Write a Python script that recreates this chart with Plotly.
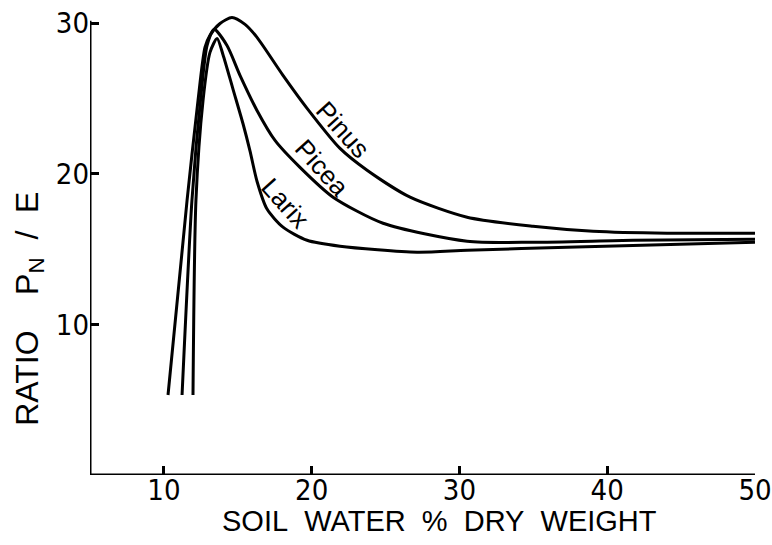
import plotly.graph_objects as go

TICKFONT = "DejaVu Sans Condensed, Liberation Sans Narrow, sans-serif"
TEXTFONT = "Liberation Sans, Arial, sans-serif"

# --- data ---
pinus_x = [10.28, 11.57, 12.31, 12.78, 13.12, 13.80, 14.61, 15.49, 16.30, 18.06, 19.69,
           21.92, 23.75, 26.66, 30.52, 34.98, 39.04, 44.05, 50.0]
pinus_y = [5.31, 18.24, 24.87, 28.38, 29.18, 29.97, 30.37, 29.91, 29.05, 26.53, 24.34,
           21.68, 20.23, 18.44, 17.11, 16.51, 16.18, 16.05, 16.05]

picea_x = [11.23, 11.90, 12.51, 12.92, 13.39, 14.27, 15.15, 16.30, 17.52, 19.21, 21.45,
           24.83, 30.52, 34.98, 41.75, 50.0]
picea_y = [5.31, 18.24, 25.20, 28.51, 29.58, 28.51, 26.53, 24.20, 22.21, 20.42, 18.44,
           16.71, 15.52, 15.45, 15.58, 15.65]

larix_x = [11.97, 12.17, 12.65, 13.12, 13.60, 14.00, 14.68, 15.36, 15.83, 16.30, 16.98,
           18.06, 19.69, 21.92, 27.13, 30.52, 37.28, 50.0]
larix_y = [5.31, 18.24, 24.87, 28.05, 28.98, 27.90, 25.60, 23.30, 21.50, 19.50, 17.65,
           16.45, 15.58, 15.19, 14.79, 14.92, 15.12, 15.45]

labels = ["Pinus", "Picea", "Larix"]
label_x = [22.12, 20.70, 18.20]
label_y = [22.88, 20.36, 18.04]

x_ticks = [10, 20, 30, 40, 50]
y_ticks = [10, 20, 30]
x_min, x_max = 5, 50
y_min, y_top = 0, 30

fig = go.Figure()
for xs, ys, name in [(pinus_x, pinus_y, "Pinus"), (picea_x, picea_y, "Picea"),
                     (larix_x, larix_y, "Larix")]:
    fig.add_trace(go.Scatter(x=xs, y=ys, mode="lines", name=name,
                             line=dict(color="black", width=3, shape="spline", smoothing=0.7),
                             showlegend=False, hoverinfo="skip"))

for t, lx, ly in zip(labels, label_x, label_y):
    fig.add_annotation(x=lx, y=ly, text=t, showarrow=False, textangle=48,
                       font=dict(family=TEXTFONT, size=26, color="black"))

# axis lines drawn as shapes so the y line stops at the 30 tick
fig.add_shape(type="line", xref="x", yref="y", x0=x_min, x1=x_min, y0=y_min, y1=y_top + 0.15,
              line=dict(color="black", width=3))
fig.add_shape(type="line", xref="x", yref="y", x0=x_min, x1=x_max, y0=y_min, y1=y_min,
              line=dict(color="black", width=3))

fig.add_annotation(xref="paper", yref="paper", x=0.526, y=-0.1,
                   text="SOIL\u00a0\u00a0WATER\u00a0\u00a0%\u00a0\u00a0DRY\u00a0\u00a0WEIGHT",
                   showarrow=False, xanchor="center", yanchor="middle",
                   font=dict(family=TEXTFONT, size=29, color="black"))
fig.add_annotation(xref="paper", yref="paper", x=-0.092, y=0.36,
                   text="RATIO\u00a0\u00a0\u00a0\u00a0P<sub>N</sub>\u00a0\u00a0/\u00a0\u00a0E",
                   showarrow=False, xanchor="center", yanchor="middle", textangle=-90,
                   font=dict(family=TEXTFONT, size=32, color="black"))

axis_common = dict(showgrid=False, zeroline=False, showline=False, automargin=False,
                   ticks="inside", ticklen=9, tickwidth=2.5, tickcolor="black",
                   ticklabeloverflow="allow",
                   tickfont=dict(family=TICKFONT, size=29, color="black"))

fig.update_xaxes(range=[x_min, x_max + 0.001], tickvals=x_ticks,
                 ticktext=[str(v) for v in x_ticks], ticklabelstandoff=-5, **axis_common)
fig.update_yaxes(range=[y_min, 30.6], tickvals=y_ticks,
                 ticktext=[str(v) for v in y_ticks], **axis_common)

fig.update_layout(width=772, height=545, margin=dict(l=90, r=17, t=14, b=70, autoexpand=False),
                  plot_bgcolor="white", paper_bgcolor="white")

fig.write_html("out.html")
